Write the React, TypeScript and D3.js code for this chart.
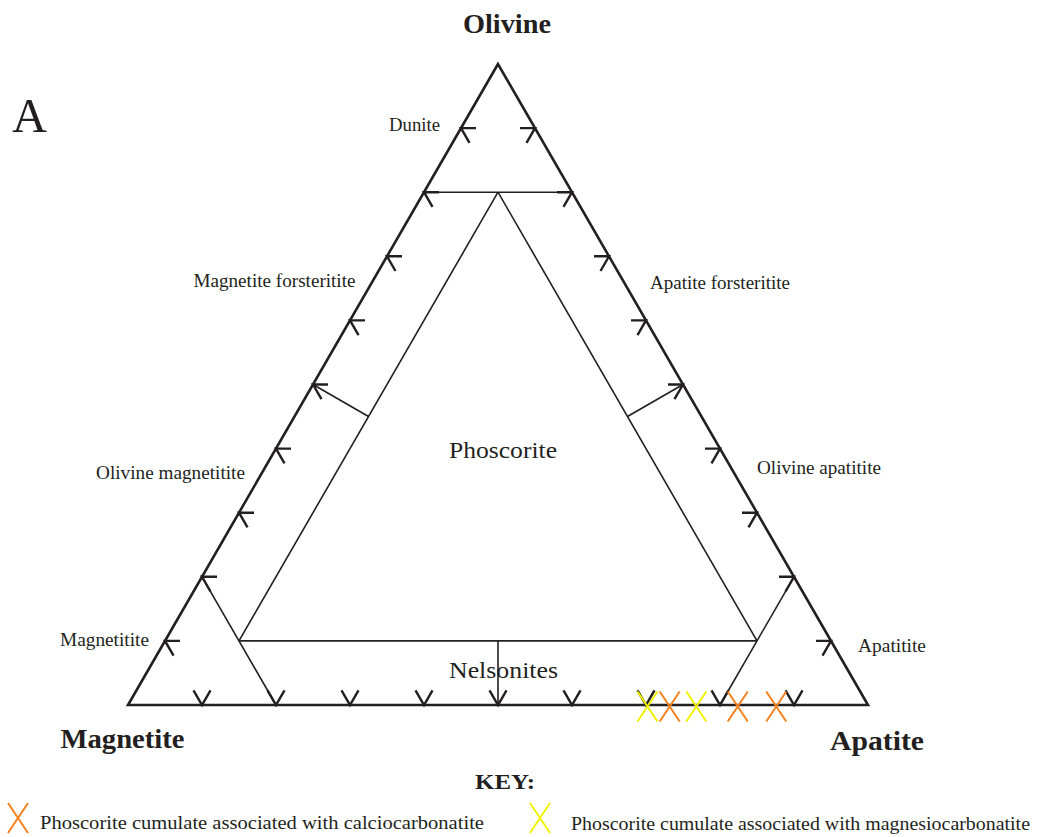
import React from "react";
import * as d3 from "d3";

// Ternary composition order: [olivine, magnetite, apatite] (fractions)
const vertexLabels = ["Olivine", "Magnetite", "Apatite"];
const tickFractions = [0.1, 0.2, 0.3, 0.4, 0.5, 0.6, 0.7, 0.8, 0.9];

// Field boundary segments (ternary coords)
const boundaryLines: [number, number, number][][] = [
  [[0.8, 0.2, 0], [0.8, 0, 0.2]], // dunite limit
  [[0.8, 0.1, 0.1], [0.1, 0.8, 0.1]], // phoscorite left
  [[0.8, 0.1, 0.1], [0.1, 0.1, 0.8]], // phoscorite right
  [[0.1, 0.8, 0.1], [0.1, 0.1, 0.8]], // olivine 10%
  [[0.2, 0.8, 0], [0, 0.8, 0.2]], // magnetitite limit
  [[0.2, 0, 0.8], [0, 0.2, 0.8]], // apatitite limit
  [[0.45, 0.45, 0.1], [0.5, 0.5, 0]], // Ol = Mt
  [[0.45, 0.1, 0.45], [0.5, 0, 0.5]], // Ol = Ap
  [[0.1, 0.45, 0.45], [0, 0.5, 0.5]], // Mt = Ap
];

// Field names: [label, olivine, magnetite, apatite-ish anchor via pixel offsets kept in layout]
const fieldNames = [
  "Dunite",
  "Magnetite forsteritite",
  "Apatite forsteritite",
  "Olivine magnetitite",
  "Olivine apatitite",
  "Magnetitite",
  "Apatitite",
];

// Sample points: [olivine, magnetite, apatite]
const calcioSamples: [number, number, number][] = [
  [0, 0.268, 0.732],
  [0, 0.176, 0.824],
  [0, 0.124, 0.876],
];
const magnesioSamples: [number, number, number][] = [
  [0, 0.298, 0.702],
  [0, 0.232, 0.768],
];

const legendLabels = [
  "Phoscorite cumulate associated with calciocarbonatite",
  "Phoscorite cumulate associated with magnesiocarbonatite",
];

const ORANGE = "#f5821f";
const YELLOW = "#f2f200";
const INK = "#231f20";
const FONT = "'Liberation Serif', 'Times New Roman', serif";

export default function App() {
  const W = 1048;
  const H = 837;
  const xScale = d3.scaleLinear().domain([0, 1]).range([128, 868]);
  const yScale = d3.scaleLinear().domain([0, 1]).range([705, 64]);
  const proj = (p: [number, number, number]): [number, number] => {
    const s = p[0] + p[1] + p[2];
    const ol = p[0] / s;
    const ap = p[2] / s;
    return [xScale(ap + ol / 2), yScale(ol)];
  };
  const line = d3.line<[number, number, number]>()
    .x((d) => proj(d)[0])
    .y((d) => proj(d)[1]);

  const outer: [number, number, number][] = [
    [1, 0, 0],
    [0, 1, 0],
    [0, 0, 1],
  ];

  const c60 = Math.cos(Math.PI / 3);
  const s60 = Math.sin(Math.PI / 3);
  const hLen = 15;
  const dLen = 17;

  const ticks: string[] = [];
  tickFractions.forEach((f) => {
    // left side (olivine-magnetite)
    const [lx, ly] = proj([f, 1 - f, 0]);
    ticks.push(`M${lx + hLen},${ly}L${lx},${ly}L${lx + dLen * c60},${ly + dLen * s60}`);
    // right side (olivine-apatite)
    const [rx, ry] = proj([f, 0, 1 - f]);
    ticks.push(`M${rx - hLen},${ry}L${rx},${ry}L${rx - dLen * c60},${ry + dLen * s60}`);
    // bottom (magnetite-apatite)
    const [bx, by] = proj([0, 1 - f, f]);
    ticks.push(`M${bx - dLen * c60},${by - dLen * s60}L${bx},${by}L${bx + dLen * c60},${by - dLen * s60}`);
  });

  const cross = (cx: number, cy: number, color: string, key: string) => (
    <path
      key={key}
      d={`M${cx - 10},${cy - 15}L${cx + 10},${cy + 15}M${cx + 10},${cy - 15}L${cx - 10},${cy + 15}`}
      stroke={color}
      strokeWidth={2}
      fill="none"
    />
  );

  const fieldLayout = [
    { x: 414.5, y: 131, w: 51 },
    { x: 274.5, y: 287, w: 162 },
    { x: 720, y: 289, w: 140 },
    { x: 170.5, y: 479, w: 149 },
    { x: 819, y: 474, w: 124 },
    { x: 104.5, y: 646, w: 89 },
    { x: 892, y: 652, w: 68 },
  ];

  return (
    <svg
      width={W}
      height={H}
      style={{ position: "absolute", left: 0, top: 0, background: "#fff" }}
      fontFamily={FONT}
    >
      <rect width={W} height={H} fill="#fff" />
      {/* boundaries */}
      {boundaryLines.map((seg, i) => (
        <path key={`b${i}`} d={line(seg) ?? ""} stroke={INK} strokeWidth={1.6} fill="none" />
      ))}
      {/* outer triangle */}
      <path d={(line(outer) ?? "") + "Z"} stroke={INK} strokeWidth={2.6} fill="none" strokeLinejoin="miter" />
      {/* ticks */}
      {ticks.map((d, i) => (
        <path key={`t${i}`} d={d} stroke={INK} strokeWidth={2.4} fill="none" />
      ))}
      {/* samples */}
      {magnesioSamples.map((p, i) => {
        const [x, y] = proj(p);
        return cross(x, y + 1.5, YELLOW, `m${i}`);
      })}
      {calcioSamples.map((p, i) => {
        const [x, y] = proj(p);
        return cross(x, y + 1.5, ORANGE, `c${i}`);
      })}

      {/* vertex labels */}
      <text x={507} y={33} textAnchor="middle" fontWeight="bold" fontSize={27} fill={INK} textLength={88} lengthAdjust="spacingAndGlyphs">
        {vertexLabels[0]}
      </text>
      <text x={122.5} y={748} textAnchor="middle" fontWeight="bold" fontSize={27} fill={INK} textLength={124} lengthAdjust="spacingAndGlyphs">
        {vertexLabels[1]}
      </text>
      <text x={877} y={750} textAnchor="middle" fontWeight="bold" fontSize={27} fill={INK} textLength={94} lengthAdjust="spacingAndGlyphs">
        {vertexLabels[2]}
      </text>
      <text x={12} y={132} fontSize={48} fill={INK} textLength={35} lengthAdjust="spacingAndGlyphs">
        A
      </text>

      {/* field names */}
      {fieldNames.map((n, i) => (
        <text
          key={`f${i}`}
          x={fieldLayout[i].x}
          y={fieldLayout[i].y}
          textAnchor="middle"
          fontSize={18}
          fill={INK}
          textLength={fieldLayout[i].w}
          lengthAdjust="spacingAndGlyphs"
        >
          {n}
        </text>
      ))}
      <text x={503} y={458} textAnchor="middle" fontSize={24} fill={INK} textLength={108} lengthAdjust="spacingAndGlyphs">
        Phoscorite
      </text>
      <text x={503.5} y={678} textAnchor="middle" fontSize={24} fill={INK} textLength={109} lengthAdjust="spacingAndGlyphs">
        Nelsonites
      </text>

      {/* key */}
      <text x={505} y={789} textAnchor="middle" fontWeight="bold" fontSize={22} fill={INK} textLength={60} lengthAdjust="spacingAndGlyphs">
        KEY:
      </text>
      {cross(18, 818, ORANGE, "lk1")}
      <text x={40} y={829} fontSize={18} fill={INK} textLength={444} lengthAdjust="spacingAndGlyphs">
        {legendLabels[0]}
      </text>
      {cross(540, 818, YELLOW, "lk2")}
      <text x={571} y={830} fontSize={18} fill={INK} textLength={459} lengthAdjust="spacingAndGlyphs">
        {legendLabels[1]}
      </text>
    </svg>
  );
}
